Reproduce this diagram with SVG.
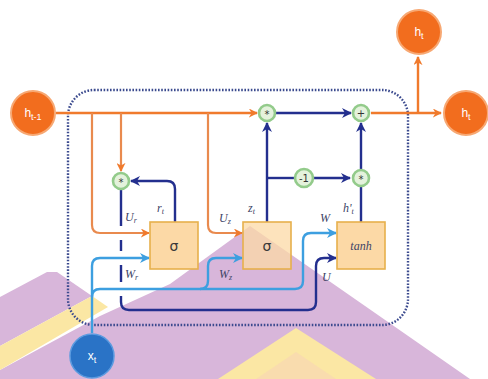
<svg xmlns="http://www.w3.org/2000/svg" width="488" height="379" viewBox="0 0 488 379">
<defs>
<style>
.or{fill:none;stroke:#f07a2c;stroke-width:2.4}
.ob{fill:none;stroke:#e98a4e;stroke-width:2.2}
.nv{fill:none;stroke:#232f8e;stroke-width:2.4}
.lb{fill:none;stroke:#3d9fe0;stroke-width:2.4}
.box{fill:#fcd9a6;stroke:#e6b04c;stroke-width:1.6}
.op{fill:#e4f2dc;stroke:#93cb8b;stroke-width:2.6}
.big{fill:#f26d1e;stroke:#f7a873;stroke-width:2}
.bt{font-family:"Liberation Sans",Arial,sans-serif;fill:#fff;font-size:12px;text-anchor:middle}
.lab{font-family:"Liberation Serif","Times New Roman",serif;font-style:italic;font-size:12px;fill:#404466}
.sym{font-family:"DejaVu Sans",sans-serif;font-size:10px;fill:#333;text-anchor:middle}
.sg{font-family:"DejaVu Sans",sans-serif;font-size:14px;fill:#3a3a3a;text-anchor:middle}
</style>
<marker id="ao" viewBox="0 0 10 10" refX="9" refY="5" markerWidth="9" markerHeight="9" markerUnits="userSpaceOnUse" orient="auto"><path d="M0,0 L10,5 L0,10 L3,5 z" fill="#f07a2c"/></marker>
<marker id="an" viewBox="0 0 10 10" refX="9" refY="5" markerWidth="10" markerHeight="10" markerUnits="userSpaceOnUse" orient="auto"><path d="M0,0 L10,5 L0,10 L3,5 z" fill="#232f8e"/></marker>
<marker id="ab" viewBox="0 0 10 10" refX="9" refY="5" markerWidth="10" markerHeight="10" markerUnits="userSpaceOnUse" orient="auto"><path d="M0,0 L10,5 L0,10 L3,5 z" fill="#3d9fe0"/></marker>
</defs>
<rect width="488" height="379" fill="#fff"/>
<g id="background">
<polygon points="250,226 470,379 0,379 0,370 100,316 170,284" fill="#d8b6da"/>
<polygon points="0,297 47,272 57,272 92,296 0,346" fill="#d8b6da"/>
<polygon points="0,346 92,296 108,307 0,370" fill="#fbe7a4"/>
<polygon points="296,328 376,379 218,379" fill="#fbe7a4"/>
<polygon points="296,352 336,379 256,379" fill="#f9dcae"/>
</g>
<g id="cell-border">
<rect x="68" y="90" width="340" height="235" rx="26" fill="none" stroke="#3b4a8e" stroke-width="2.4" stroke-dasharray="1.6 1.6"/>
</g>
<g id="connectors">
<path class="or" d="M56,113 H257" marker-end="url(#ao)"/>
<path class="or" d="M371,113 H441" marker-end="url(#ao)"/>
<path class="or" d="M418,113 V57" marker-end="url(#ao)"/>
<path class="ob" d="M92,113 V225 Q92,233 100,233 H149" marker-end="url(#ao)"/>
<path class="ob" d="M121,113 V171" marker-end="url(#ao)"/>
<path class="ob" d="M208,113 V225 Q208,233 216,233 H242" marker-end="url(#ao)"/>
<path class="nv" d="M175,222 V189 Q175,181 167,181 H131" marker-end="url(#an)"/>
<path class="nv" d="M121,190 V226 M121,240 V251 M121,265 V282 M121,296 V302 Q121,310 129,310 H308 Q316,310 316,302 V266 Q316,258 324,258 H336" marker-end="url(#an)"/>
<path class="nv" d="M267,222 V123" marker-end="url(#an)"/>
<path class="nv" d="M267,178 H295"/>
<path class="nv" d="M313,178 H350" marker-end="url(#an)"/>
<path class="nv" d="M361,222 V187"/>
<path class="nv" d="M361,169 V123" marker-end="url(#an)"/>
<path class="nv" d="M276,113 H351" marker-end="url(#an)"/>
<path class="lb" d="M92,333 V266 Q92,258 100,258 H149" marker-end="url(#ab)"/>
<path class="lb" d="M92,297 Q92,289 100,289 H295 Q303,289 303,281 V241 Q303,233 311,233 H336" marker-end="url(#ab)"/>
<path class="lb" d="M200,289 Q208,289 208,281 V266 Q208,258 216,258 H242" marker-end="url(#ab)"/>
</g>
<g id="h_prev"><circle class="big" cx="33" cy="113" r="22"/><text class="bt" x="33" y="117">h<tspan font-size="9" dy="3">t-1</tspan></text></g>
<g id="h_t_top"><circle class="big" cx="419" cy="32" r="22"/><text class="bt" x="419" y="36">h<tspan font-size="9" dy="3">t</tspan></text></g>
<g id="h_t_right"><circle class="big" cx="466" cy="113" r="22"/><text class="bt" x="466" y="117">h<tspan font-size="9" dy="3">t</tspan></text></g>
<g id="x_t"><circle cx="92" cy="356" r="22" fill="#2a73c6" stroke="#5b9be0" stroke-width="1.5"/><text class="bt" x="92" y="360">x<tspan font-size="9" dy="3">t</tspan></text></g>
<g id="mul_r"><circle class="op" cx="121" cy="181" r="8"/><text class="sym" x="121" y="186">*</text></g>
<g id="mul_z"><circle class="op" cx="267" cy="113" r="8"/><text class="sym" x="267" y="118">*</text></g>
<g id="add"><circle class="op" cx="361" cy="113" r="8"/><text class="sym" x="361" y="117">+</text></g>
<g id="neg1"><circle class="op" cx="304" cy="178" r="9"/><text class="sym" x="304" y="182">-1</text></g>
<g id="mul_h"><circle class="op" cx="361" cy="178" r="8"/><text class="sym" x="361" y="183">*</text></g>
<g id="sigma_r"><rect class="box" x="150" y="222" width="48" height="47"/><text class="sg" x="174" y="251">σ</text></g>
<g id="sigma_z"><rect class="box" x="243" y="222" width="48" height="47" fill-opacity="0.75"/><text class="sg" x="267" y="251">σ</text></g>
<g id="tanh"><rect class="box" x="337" y="222" width="48" height="47"/><text class="lab" x="361" y="250" text-anchor="middle" fill="#333">tanh</text></g>
<g id="labels">
<text class="lab" x="125" y="221">U<tspan font-size="8" dy="2">r</tspan></text>
<text class="lab" x="157" y="212">r<tspan font-size="8" dy="2">t</tspan></text>
<text class="lab" x="219" y="222">U<tspan font-size="8" dy="2">z</tspan></text>
<text class="lab" x="248" y="212">z<tspan font-size="8" dy="2">t</tspan></text>
<text class="lab" x="320" y="222">W</text>
<text class="lab" x="343" y="212">h'<tspan font-size="8" dy="2">t</tspan></text>
<text class="lab" x="125" y="278">W<tspan font-size="8" dy="2">r</tspan></text>
<text class="lab" x="219" y="278">W<tspan font-size="8" dy="2">z</tspan></text>
<text class="lab" x="322" y="281">U</text>
</g>
</svg>
